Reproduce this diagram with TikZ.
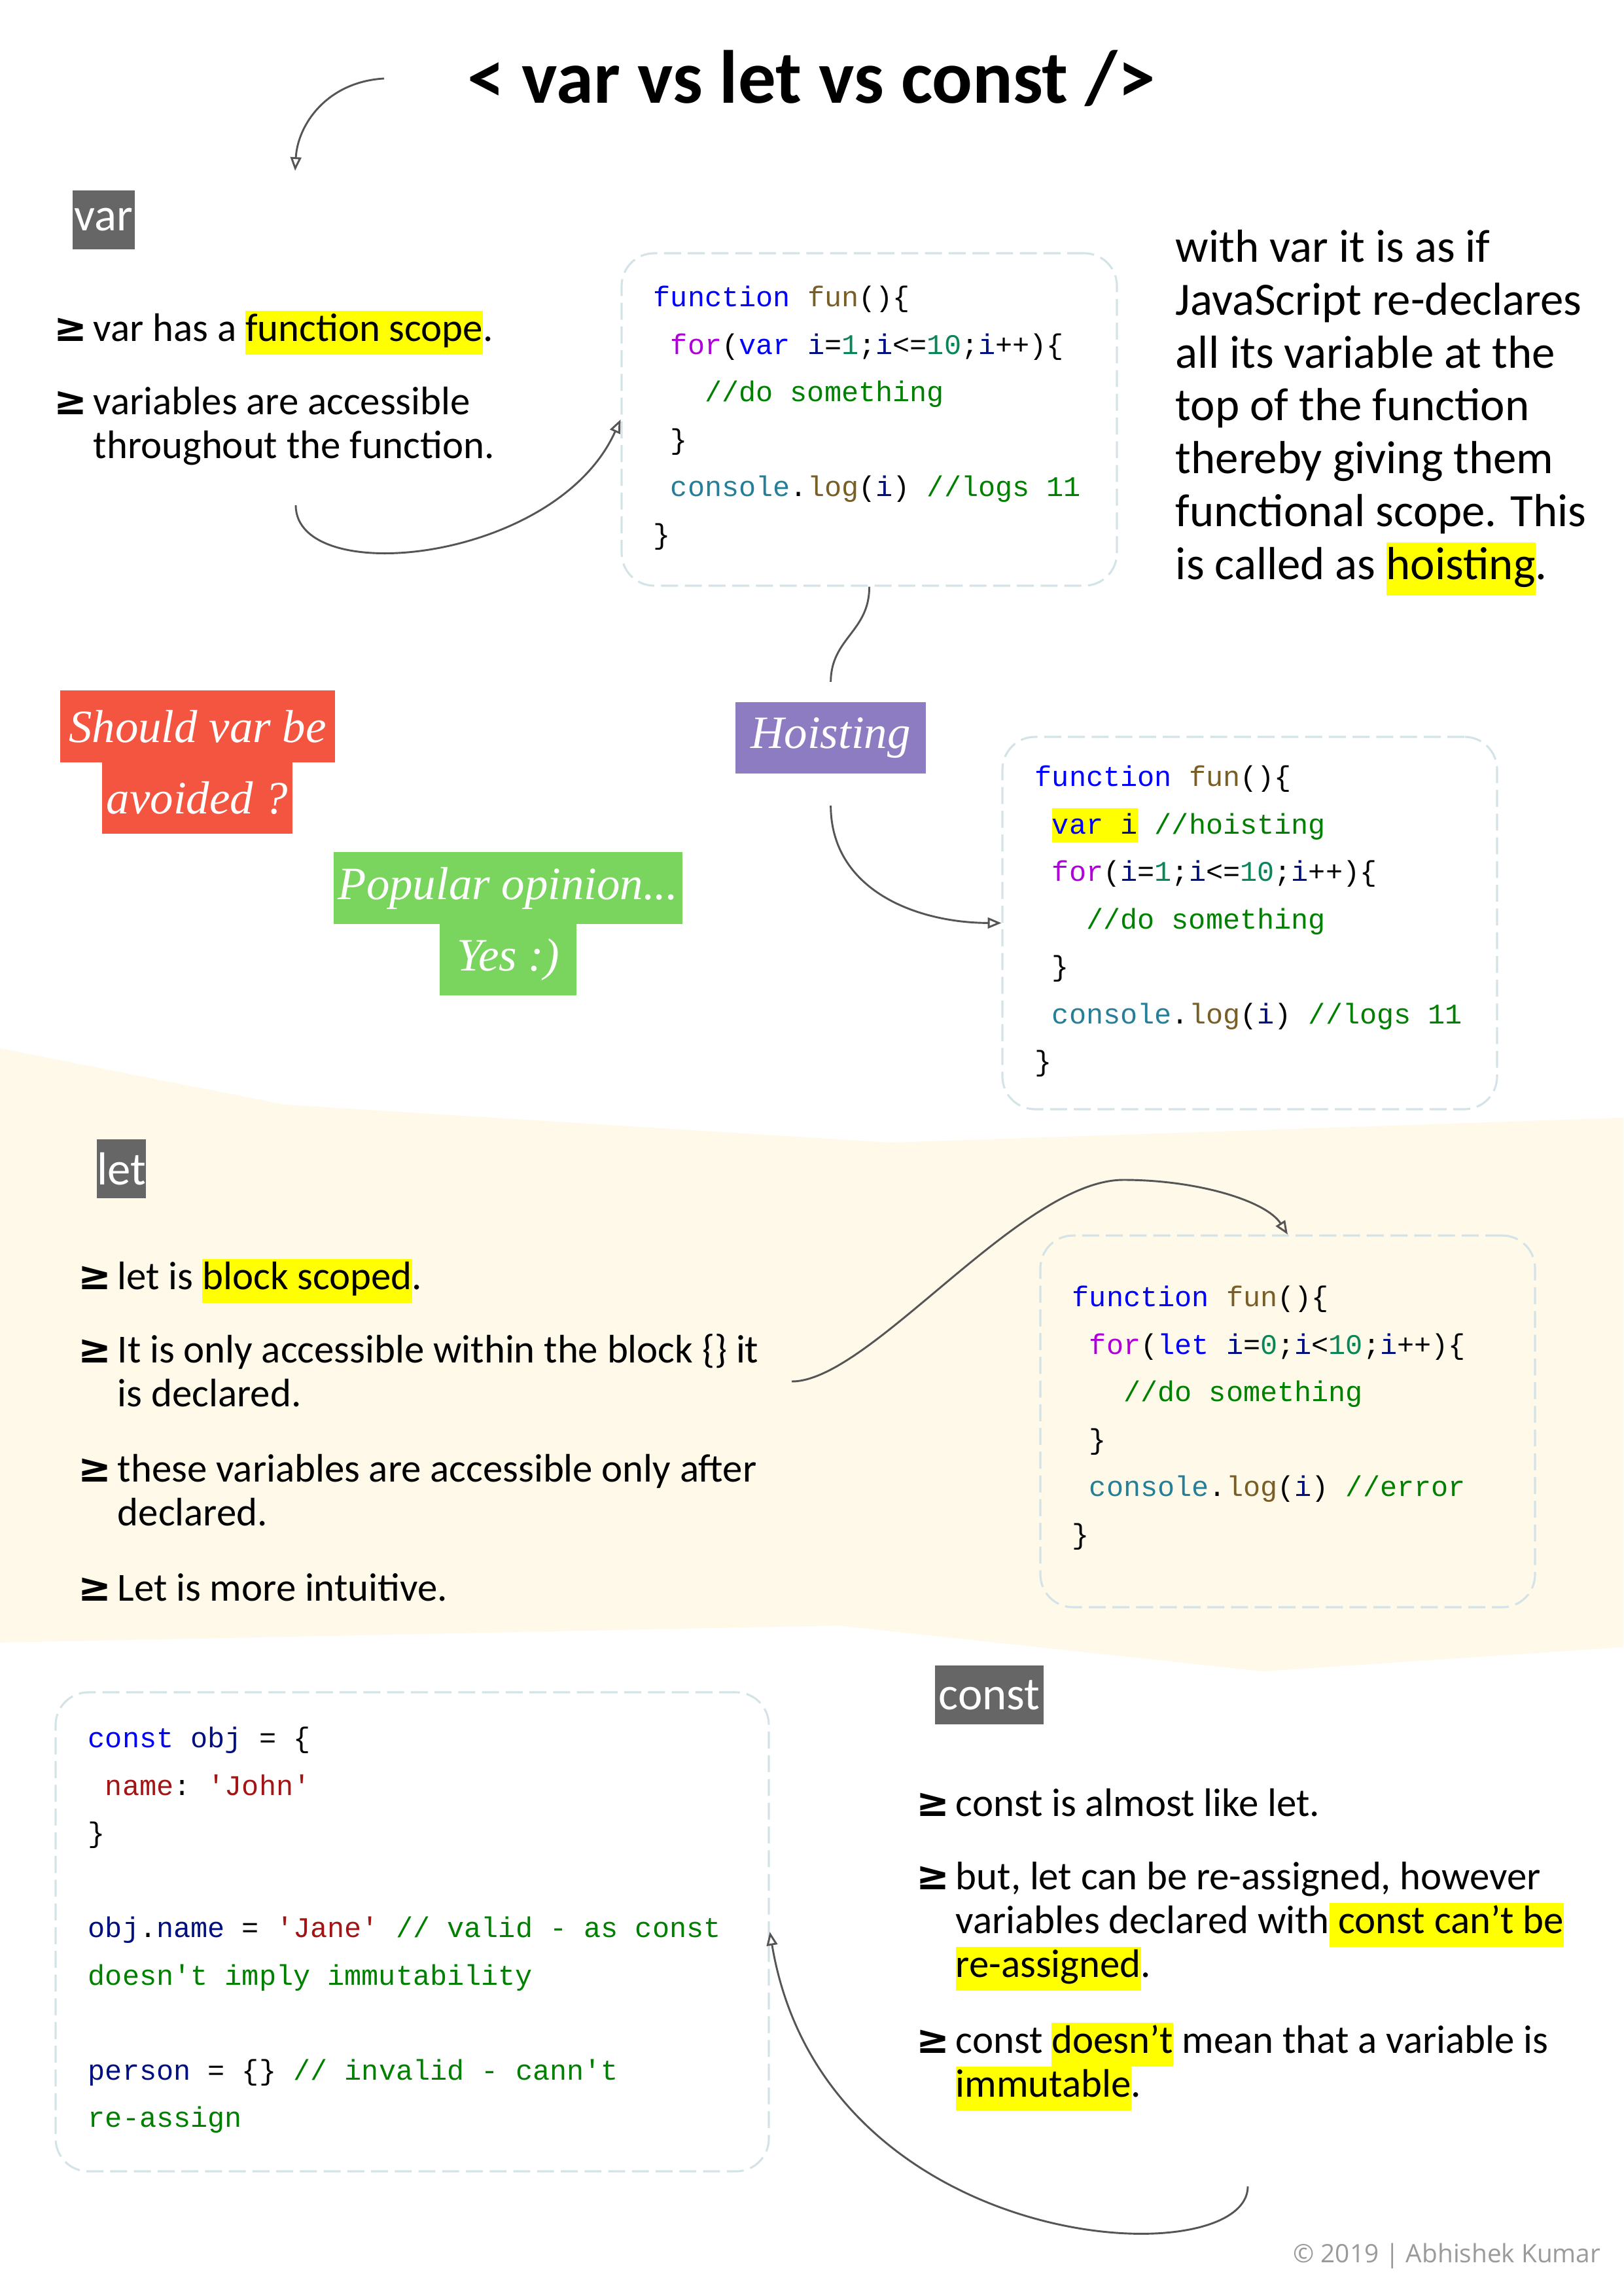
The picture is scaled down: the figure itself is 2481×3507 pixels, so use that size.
\documentclass[tikz,border=0pt]{standalone}
\usepackage{fontspec}
\setmainfont{Carlito}
\setmonofont{Liberation Mono}
\newfontfamily\symfnt{DejaVu Sans}
\newfontfamily\scrfnt{Liberation Serif}
\newfontfamily\creditfnt{Open Sans}
\usetikzlibrary{arrows.meta,fit}

\definecolor{boxline}{HTML}{D4E3E7}
\definecolor{hlyellow}{HTML}{FFFF00}
\definecolor{taggray}{HTML}{666666}
\definecolor{avoidred}{HTML}{F35540}
\definecolor{popgreen}{HTML}{7AD55E}
\definecolor{hoistpurple}{HTML}{8E7CC3}
\definecolor{letbg}{HTML}{FEF9E8}
\definecolor{conngray}{HTML}{555555}
\definecolor{creditgray}{HTML}{9A9A9A}
% code colours
\definecolor{ckw}{HTML}{0000FF}
\definecolor{cfn}{HTML}{795E26}
\definecolor{cctl}{HTML}{AF00DB}
\definecolor{cvar}{HTML}{001080}
\definecolor{cnum}{HTML}{098658}
\definecolor{ccom}{HTML}{008000}
\definecolor{ccls}{HTML}{267F99}
\definecolor{cstr}{HTML}{A31515}

\newcommand\cKw[1]{\textcolor{ckw}{#1}}
\newcommand\cFn[1]{\textcolor{cfn}{#1}}
\newcommand\cCtl[1]{\textcolor{cctl}{#1}}
\newcommand\cVar[1]{\textcolor{cvar}{#1}}
\newcommand\cNum[1]{\textcolor{cnum}{#1}}
\newcommand\cCom[1]{\textcolor{ccom}{#1}}
\newcommand\cCls[1]{\textcolor{ccls}{#1}}
\newcommand\cStr[1]{\textcolor{cstr}{#1}}
\newcommand\hlt[1]{{\setlength\fboxsep{0pt}\colorbox{hlyellow}{\strut #1}}}
\newcommand\bul{\strut\makebox[14.4pt][l]{\symfnt\bfseries ≥}}
\newcommand\bulind{\hspace*{14.4pt}}

\begin{document}
\begin{tikzpicture}
  [x=0.24pt, y=-0.24pt,
   code box/.style={draw=boxline, line width=0.75pt, dash pattern=on 6.2pt off 2.5pt, rounded corners=12pt, inner sep=0pt},
   code text/.style={anchor=north west, inner sep=0pt, align=left, font=\ttfamily\fontsize{10.45}{17.4}\selectfont},
   bullet text/.style={anchor=north west, inner sep=0pt, align=left, font=\fontsize{14.6}{16.1}\selectfont},
   tag node/.style={fill=taggray, text=white, inner sep=0pt, minimum height=21.6pt, font=\fontsize{17}{17}\selectfont},
   note box/.style={text=white, inner sep=0pt, minimum height=26.3pt, font=\scrfnt\itshape\fontsize{17}{17}\selectfont},
   conn/.style={draw=conngray, line width=0.7pt},
   arr/.style={conn, -{Triangle[open, length=5pt, width=4pt]}}]
  \fill[white] (0,0) rectangle (2481,3507);
  \useasboundingbox (0,0) rectangle (2481,3507);

  % band behind the let part
  \fill[letbg] (0,1602) -- (435,1688) -- (1361,1746) -- (2481,1708) -- (2481,2517)
    -- (1930,2554) -- (1282,2484) -- (0,2510) -- cycle;

  \node[font=\bfseries\fontsize{27.6}{27.6}\selectfont] (title) at (1240,120) {< var vs let vs const />};

  % var
  \node[tag node, minimum width=22.8pt] (vartag) at (158.5,336) {var};
  \node[bullet text] (varb1) at (82,474) {\bul var has a \hlt{function scope}.};
  \node[bullet text] (varb2) at (82,586) {\bul variables are accessible\\ \bulind throughout the function.};

  \node[code box, fit={(950,387) (1707,895)}] (code1) {};
  \node[code text] (code1txt) at (998,417) {\strut\cKw{function} \cFn{fun}()\{\\
\ \cCtl{for}(\cKw{var} \cVar{i}=\cNum{1};\cVar{i}<=\cNum{10};\cVar{i}++)\{\\
\ \ \ \cCom{//do something}\\
\ \}\\
\ \cCls{console}.\cFn{log}(\cVar{i}) \cCom{//logs 11}\\
\}};

  \node[anchor=north west, inner sep=0pt, align=left, font=\fontsize{17}{19.4}\selectfont] (hoistnote) at (1796,343)
    {\strut with var it is as if\\ JavaScript re-declares\\ all its variable at the\\ top of the function\\
     thereby giving them\\ functional scope. This\\ is called as \hlt{hoisting}.};

  \node[note box, fill=avoidred, minimum width=100.8pt] (avoid1) at (302,1110) {Should var be};
  \node[note box, fill=avoidred, minimum width=69.8pt] (avoid2) at (301.5,1219.5) {avoided ?};
  \node[note box, fill=popgreen, minimum width=127.9pt] (pop1) at (776.5,1357) {Popular opinion...};
  \node[note box, fill=popgreen, minimum width=50.2pt] (pop2) at (776.5,1466.5) {Yes :)};
  \node[note box, fill=hoistpurple, minimum width=69.8pt] (hoist) at (1269.5,1127.5) {Hoisting};

  \node[code box, fit={(1532,1126) (2288,1695)}] (code2) {};
  \node[code text] (code2txt) at (1581,1150) {\strut\cKw{function} \cFn{fun}()\{\\
\ {\setlength\fboxsep{0pt}\colorbox{hlyellow}{\rule[-3pt]{0pt}{12.5pt}\cKw{var} \cVar{i}}} \cCom{//hoisting}\\
\ \cCtl{for}(\cVar{i}=\cNum{1};\cVar{i}<=\cNum{10};\cVar{i}++)\{\\
\ \ \ \cCom{//do something}\\
\ \}\\
\ \cCls{console}.\cFn{log}(\cVar{i}) \cCom{//logs 11}\\
\}};

  % let
  \node[tag node, minimum width=17.5pt] (lettag) at (185.5,1786) {let};
  \node[bullet text] (letb1) at (119,1923) {\bul let is \hlt{block scoped}.};
  \node[bullet text] (letb2) at (119,2035) {\bul It is only accessible within the block \{\} it\\ \bulind is declared.};
  \node[bullet text] (letb3) at (119,2217) {\bul these variables are accessible only after\\ \bulind declared.};
  \node[bullet text] (letb4) at (119,2399) {\bul Let is more intuitive.};

  \node[code box, fit={(1590,1888) (2346,2456)}] (code3) {};
  \node[code text] (code3txt) at (1638,1945) {\strut\cKw{function} \cFn{fun}()\{\\
\ \cCtl{for}(\cKw{let} \cVar{i}=\cNum{0};\cVar{i}<\cNum{10};\cVar{i}++)\{\\
\ \ \ \cCom{//do something}\\
\ \}\\
\ \cCls{console}.\cFn{log}(\cVar{i}) \cCom{//error}\\
\}};

  % const
  \node[tag node, minimum width=39.8pt] (consttag) at (1512,2590) {const};
  \node[bullet text] (constb1) at (1400,2728) {\bul const is almost like let.};
  \node[bullet text] (constb2) at (1400,2840) {\bul but, let can be re-assigned, however\\
    \bulind variables declared with\hlt{ const can't be}\\ \bulind \hlt{re-assigned}.};
  \node[bullet text] (constb3) at (1400,3090) {\bul const \hlt{doesn't} mean that a variable is\\ \bulind \hlt{immutable}.};

  \node[code box, fit={(85,2586) (1175,3318)}] (code4) {};
  \node[code text] (code4txt) at (134,2619) {\strut\cKw{const} \cVar{obj} = \{\\
\ \cStr{name}: \cStr{'John'}\\
\}\\[17.4pt]
\cVar{obj}.\cVar{name} = \cStr{'Jane'} \cCom{// valid - as const}\\
\cCom{doesn't imply immutability}\\[17.4pt]
\cVar{person} = \{\} \cCom{// invalid - cann't}\\
\cCom{re-assign}};

  \node[anchor=east, inner sep=0pt, text=creditgray, font=\creditfnt\fontsize{9.3}{9.3}\selectfont] (credit) at (2447,3447) {© 2019 | Abhishek Kumar};

  % connectors
  \coordinate (arr0) at (587,120);
  \coordinate (arr1) at (451,261);
  \coordinate (arr2) at (452,772);
  \coordinate (arr3) at (1210,2111);
  \coordinate (arr4) at (1907,3341);
  \draw[arr] (arr0) .. controls (500,125) and (455,190) .. (arr1);
  \draw[arr] (arr2) .. controls (452,900) and (850,860) .. (code1.west);
  \draw[conn, shorten >=7.2pt] (code1.south) .. controls (1329,965) and (1270,975) .. (hoist.north);
  \draw[arr, shorten <=11.5pt] (hoist.south) .. controls (1270,1360) and (1400,1410) .. (code2.west);
  \draw[arr] (arr3) .. controls (1330,2111) and (1560,1803) .. (1717,1803)
    .. controls (1830,1803) and (1935,1835) .. (code3.north);
  \draw[arr] (arr4) .. controls (1907,3480) and (1260,3450) .. (code4.east);
\end{tikzpicture}
\end{document}
